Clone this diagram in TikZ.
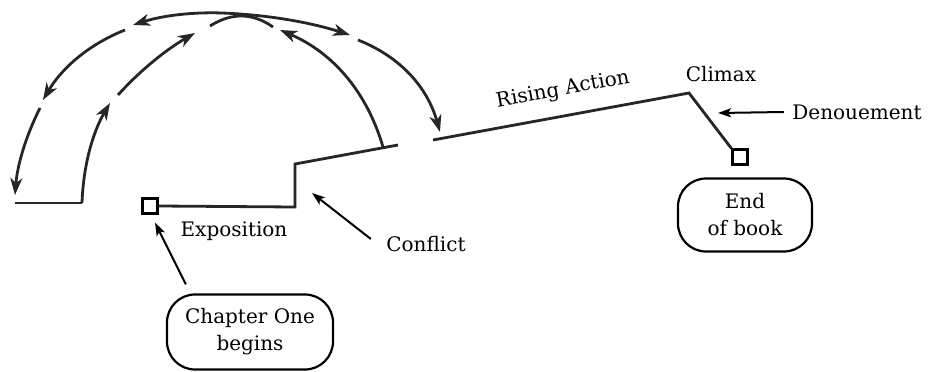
\documentclass[tikz,border=0pt]{standalone}
\usepackage{fontspec}
\setmainfont{DejaVu Serif}
\usetikzlibrary{arrows.meta}
\begin{document}
\begin{tikzpicture}[x=1pt, y=-1pt, font=\fontsize{20}{27}\selectfont,
    >={Stealth[length=17pt, width=12pt, inset=5pt]},
    track/.style={line width=2.8pt, color=black!85, line join=miter},
    pointer/.style={line width=2pt, -{Stealth[length=13pt, width=9pt, inset=3pt]}},
    bubble/.style={draw, line width=2.2pt, rounded corners=28pt, align=center},
    marker/.style={draw, line width=2.2pt, minimum size=15pt, inner sep=0pt}]
    \useasboundingbox (0, 0) rectangle (930, 372);
    \node[marker] (first) at (150, 206) {};
    \node[marker] (last) at (740, 157) {};
    \node[bubble, minimum width=166pt, minimum height=75pt] (chapter) at (250, 332) {Chapter One\\begins};
    \node[bubble, minimum width=134pt, minimum height=73pt] (endbook) at (745, 215) {End\\of book};
    \node (expo) at (234, 231) {Exposition};
    \node (conflict) at (426, 244) {Conflict};
    \node[rotate=10.4] (rising) at (563, 90) {Rising Action};
    \node (climax) at (721, 74) {Climax};
    \node (denoue) at (857, 112) {Denouement};
    \coordinate (stepbot) at (295, 207);
    \coordinate (steptop) at (295, 164);
    \coordinate (ledge) at (398, 145);
    \coordinate (turn) at (383, 147);
    \coordinate (risestart) at (433, 140);
    \coordinate (peak) at (689, 93);
    \coordinate (flatleft) at (15, 203);
    \coordinate (flatright) at (82, 203);
    \coordinate (crest) at (222, 13);
    \coordinate (denoutip) at (718, 113);
    \draw[track] (first.east)--(stepbot)--(steptop)--(ledge);
    \draw[track] (risestart)--(peak)--(last.north west);
    \draw[track] (flatleft)--(flatright);
    \draw[track, ->] (turn) .. controls (366.7, 91.3) and (332.3, 52.3) .. (280, 30);
    \draw[track, ->] (crest) .. controls (192, 11.9) and (162, 15.7) .. (133, 25);
    \draw[track, ->] (125, 30) .. controls (89.7, 44) and (62.3, 67.3) .. (43, 100);
    \draw[track, ->] (40, 108) .. controls (25.7, 136.3) and (17.3, 165.3) .. (15, 195);
    \draw[track, ->] (flatright) .. controls (83.3, 165.7) and (92.7, 132.3) .. (110, 103);
    \draw[track, ->] (118, 95) .. controls (140.3, 70.3) and (166, 49.7) .. (195, 33);
    \draw[track] (210, 26) .. controls (231.7, 12.3) and (252.7, 12.7) .. (273, 27);
    \draw[track, ->] (crest) .. controls (267.3, 14.7) and (310, 22.3) .. (350, 35);
    \draw[track, ->] (358, 40) .. controls (400.8, 56.9) and (427.5, 87.6) .. (440, 132);
    \draw[pointer] ([xshift=20pt, yshift=9pt]chapter.north west)--([xshift=5pt, yshift=-8pt]first.south);
    \draw[pointer] ([xshift=-12pt, yshift=5pt]conflict.west)--([xshift=17pt, yshift=14pt]stepbot);
    \draw[pointer] ([xshift=-5pt]denoue.west)--(denoutip);
\end{tikzpicture}
\end{document}
